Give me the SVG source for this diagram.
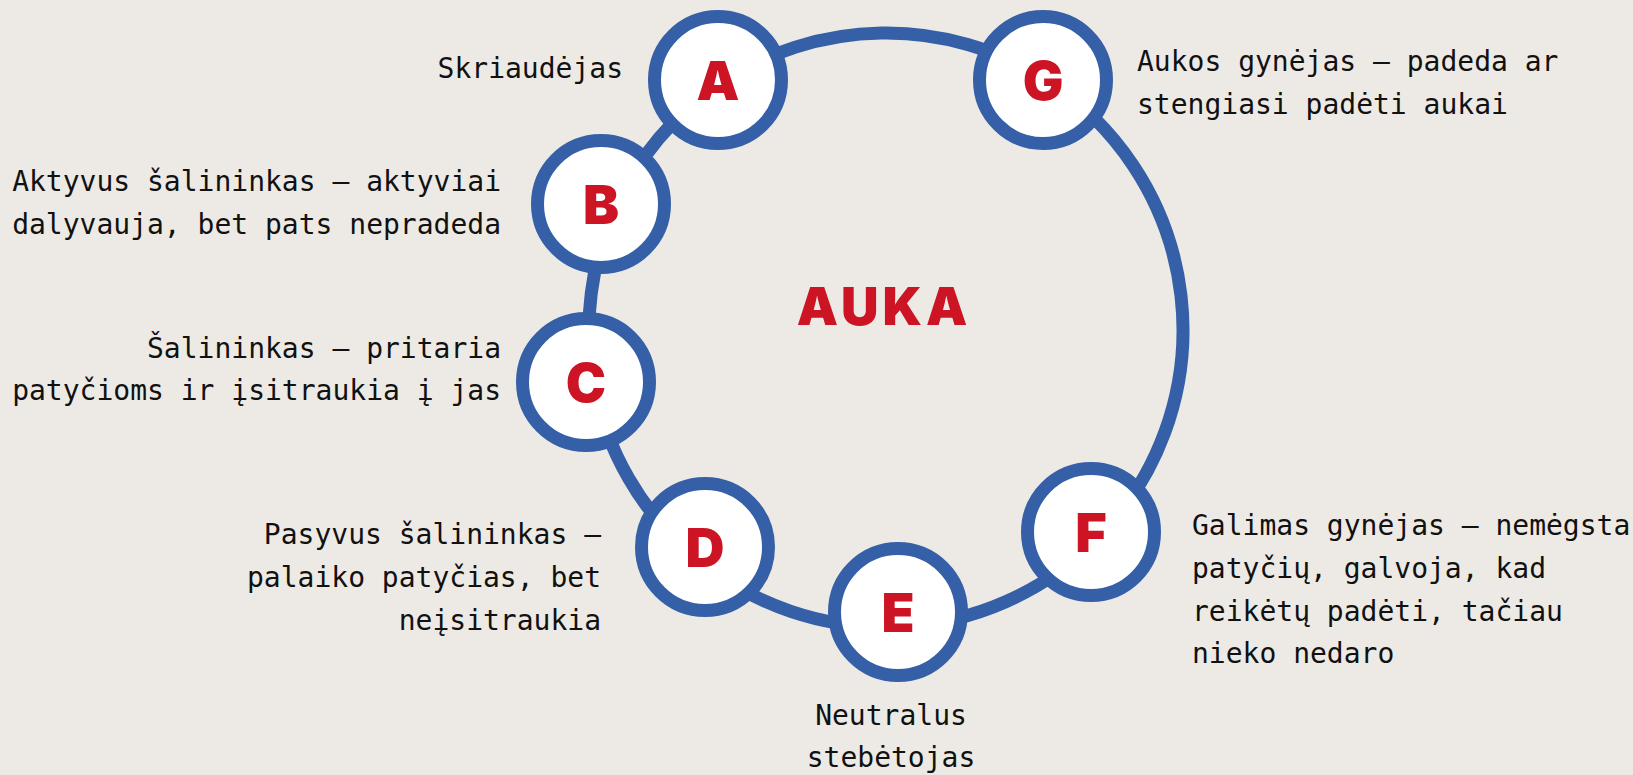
<svg xmlns="http://www.w3.org/2000/svg" width="1633" height="775" viewBox="0 0 1633 775">
<style>
.ring{fill:none;stroke:#3560A8;stroke-width:13}
.node{fill:#FFFFFF;stroke:#3560A8;stroke-width:13}
.letter{font-family:Inter,"Roboto","Liberation Sans",sans-serif;font-weight:900;font-size:54px;fill:#CC1424;text-anchor:middle}
.lbl{font-family:"DejaVu Sans Mono","Liberation Mono",monospace;font-size:28px;fill:#111111}
.end{text-anchor:end}
.mid{text-anchor:middle}
.center{font-family:Inter,"Roboto","Liberation Sans",sans-serif;font-weight:900;font-size:52px;fill:#CC1424;text-anchor:middle;letter-spacing:4px}
</style>
<rect width="1633" height="775" fill="#EDEAE5"/>
<g id="connectors">
<path class="ring" d="M720.4,83.5 A297,297 0 0 1 1043.8,78.4"/>
<path class="ring" d="M1043.8,78.4 A297,297 0 0 1 1097.5,538.5"/>
<path class="ring" d="M1097.5,538.5 A297,297 0 0 1 898.4,626.7"/>
<path class="ring" d="M898.4,626.7 A297,297 0 0 1 695.9,558.2"/>
<path class="ring" d="M695.9,558.2 A297,297 0 0 1 593.3,380.6"/>
<path class="ring" d="M593.3,380.6 A297,297 0 0 1 614.7,209.2"/>
<path class="ring" d="M614.7,209.2 A297,297 0 0 1 720.4,83.5"/>
</g>
<g id="center">
<text class="center" x="884" y="325">AUKA</text>
</g>
<g id="node-A">
<circle class="node" cx="718" cy="80" r="63.5"/>
<text class="letter" x="718" y="99.5">A</text>
<text class="lbl end" x="623" y="78">Skriaudėjas</text>
</g>
<g id="node-B">
<circle class="node" cx="601" cy="204" r="63.5"/>
<text class="letter" x="601" y="223.5">B</text>
<text class="lbl end" x="501" y="191">Aktyvus šalininkas – aktyviai</text>
<text class="lbl end" x="501" y="233.5">dalyvauja, bet pats nepradeda</text>
</g>
<g id="node-C">
<circle class="node" cx="586" cy="382" r="63.5"/>
<text class="letter" x="586" y="401.5">C</text>
<text class="lbl end" x="501" y="358">Šalininkas – pritaria</text>
<text class="lbl end" x="501" y="400">patyčioms ir įsitraukia į jas</text>
</g>
<g id="node-D">
<circle class="node" cx="705" cy="547" r="63.5"/>
<text class="letter" x="705" y="566.5">D</text>
<text class="lbl end" x="601" y="544">Pasyvus šalininkas –</text>
<text class="lbl end" x="601" y="587">palaiko patyčias, bet</text>
<text class="lbl end" x="601" y="630">neįsitraukia</text>
</g>
<g id="node-E">
<circle class="node" cx="898" cy="612" r="63.5"/>
<text class="letter" x="898" y="631.5">E</text>
<text class="lbl mid" x="891" y="725">Neutralus</text>
<text class="lbl mid" x="891" y="767">stebėtojas</text>
</g>
<g id="node-F">
<circle class="node" cx="1091" cy="532" r="63.5"/>
<text class="letter" x="1091" y="551.5">F</text>
<text class="lbl" x="1192" y="535">Galimas gynėjas – nemėgsta</text>
<text class="lbl" x="1192" y="578">patyčių, galvoja, kad</text>
<text class="lbl" x="1192" y="621">reikėtų padėti, tačiau</text>
<text class="lbl" x="1192" y="663">nieko nedaro</text>
</g>
<g id="node-G">
<circle class="node" cx="1043" cy="80" r="63.5"/>
<text class="letter" x="1043" y="99.5">G</text>
<text class="lbl" x="1137" y="71">Aukos gynėjas – padeda ar</text>
<text class="lbl" x="1137" y="114">stengiasi padėti aukai</text>
</g>
</svg>
